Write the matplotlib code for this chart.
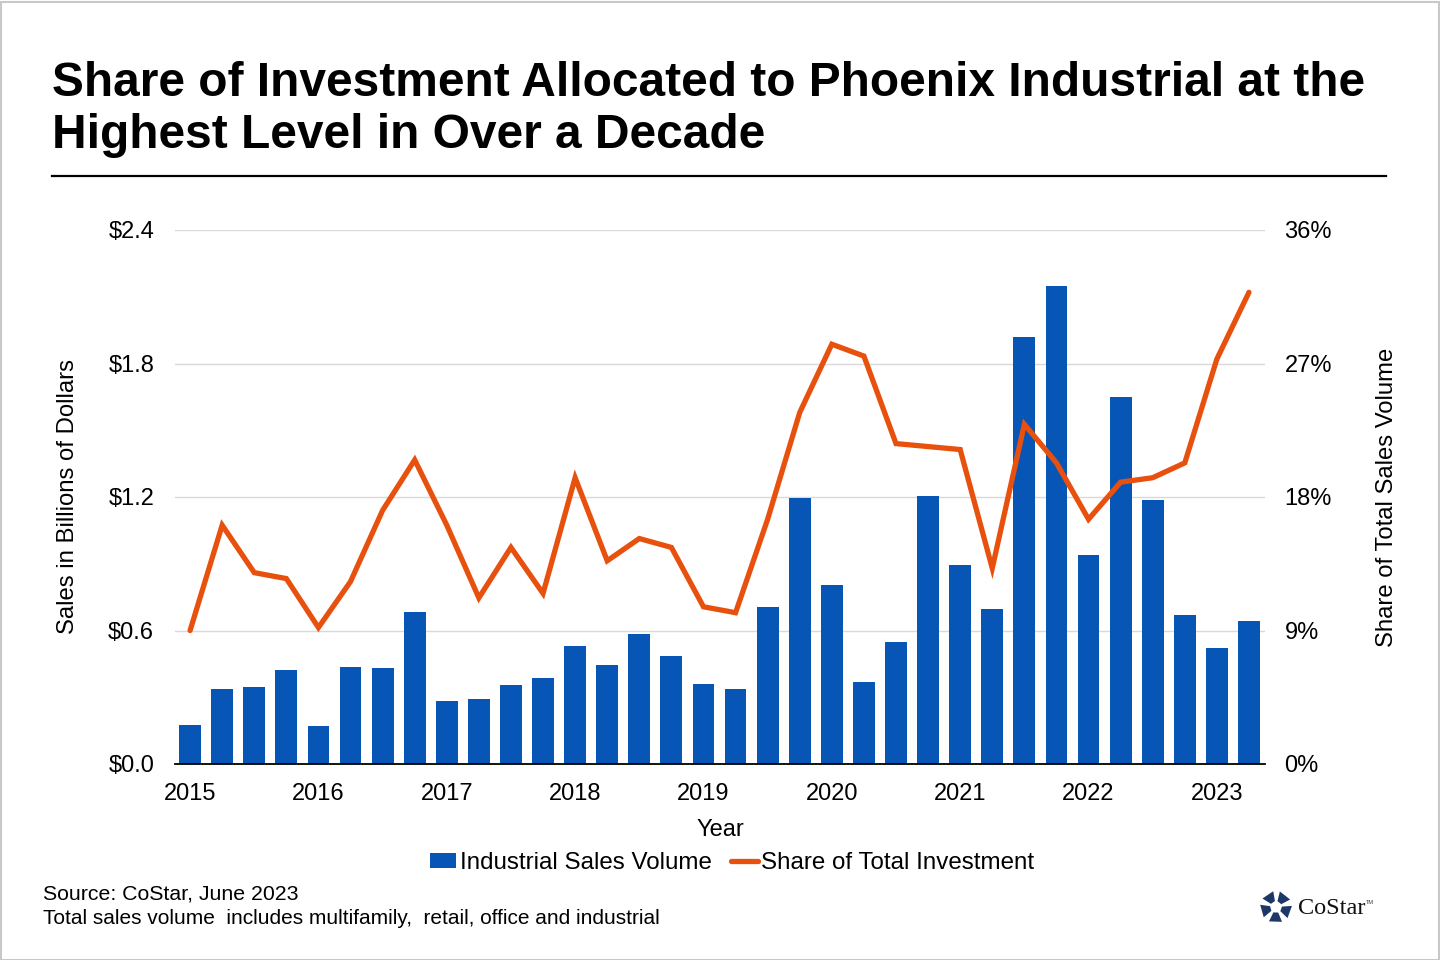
import numpy as np
import matplotlib.pyplot as plt
from matplotlib.patches import Polygon, Rectangle
from matplotlib.lines import Line2D
from matplotlib.patches import Patch

plt.rcParams["font.family"] = ["Liberation Sans", "DejaVu Sans"]

# ------------------------------------------------------------
# data: quarterly, 2015 Q1 .. 2023 Q2
# ------------------------------------------------------------
quarters = [f"{y}Q{q}" for y in range(2015, 2024) for q in range(1, 5)][:34]

sales_volume = [
    0.175, 0.337, 0.346, 0.422, 0.171, 0.436, 0.431, 0.683,
    0.283, 0.292, 0.355, 0.386, 0.530, 0.445, 0.584, 0.485,
    0.360, 0.337, 0.706, 1.196, 0.804, 0.369, 0.548, 1.204,
    0.894, 0.697, 1.919, 2.148, 0.939, 1.649, 1.187, 0.670,
    0.521, 0.643,
]

share_pct = [
    9.0, 16.1, 12.9, 12.5, 9.2, 12.3, 17.1, 20.5,
    16.1, 11.2, 14.6, 11.5, 19.3, 13.7, 15.2, 14.6,
    10.6, 10.2, 16.5, 23.7, 28.3, 27.5, 21.6, 21.4,
    21.2, 13.2, 22.9, 20.3, 16.5, 19.0, 19.3, 20.3,
    27.3, 31.8,
]

year_labels = [str(y) for y in range(2015, 2024)]
left_ticks = [0.0, 0.6, 1.2, 1.8, 2.4]
right_ticks = [0, 9, 18, 27, 36]

BLUE = "#0755B5"
ORANGE = "#E8500E"

# ------------------------------------------------------------
# figure
# ------------------------------------------------------------
fig = plt.figure(figsize=(14.4, 9.6), dpi=100)
ax = fig.add_axes([175 / 1440, 1 - 764 / 960, 1090 / 1440, 534 / 960])
ax2 = ax.twinx()

x = np.arange(len(quarters))
ax.bar(x, sales_volume, width=0.68, color=BLUE, zorder=2)
ax2.plot(x, share_pct, color=ORANGE, linewidth=3.8, solid_joinstyle="miter",
         solid_capstyle="round", zorder=3)

ax.set_xlim(-0.47, 33.5)
ax.set_ylim(0, 2.4)
ax2.set_ylim(0, 36)

ax.set_yticks(left_ticks)
ax.set_yticklabels([f"${v:.1f}" for v in left_ticks])
ax2.set_yticks(right_ticks)
ax2.set_yticklabels([f"{v}%" for v in right_ticks])
ax.set_xticks(x[::4])
ax.set_xticklabels(year_labels)

ax.yaxis.grid(True, color="#d9d9d9", linewidth=1, zorder=0)
ax.set_axisbelow(True)

for a in (ax, ax2):
    for s in ("top", "left", "right", "bottom"):
        a.spines[s].set_visible(False)
ax.spines["bottom"].set_visible(True)
ax.spines["bottom"].set_color("black")
ax.spines["bottom"].set_linewidth(1.3)
ax.spines["bottom"].set_zorder(4)

ax.tick_params(axis="x", length=0, pad=14, labelsize=17)
ax.tick_params(axis="y", length=0, pad=15, labelsize=17)
ax2.tick_params(axis="y", length=0, pad=14, labelsize=17)

ax.set_xlabel("Year", fontsize=17, labelpad=10)
ax.set_ylabel("Sales in Billions of Dollars", fontsize=17.2, labelpad=21)
ax2.set_ylabel("Share of Total Sales Volume", fontsize=17.2, labelpad=32)

# legend
handles = [
    Patch(facecolor=BLUE, edgecolor="none"),
    Line2D([0], [0], color=ORANGE, linewidth=3.8, solid_capstyle="round"),
]
fig.legend(handles, ["Industrial Sales Volume", "Share of Total Investment"],
           loc="center", bbox_to_anchor=(732 / 1440, 1 - 863 / 960), ncol=2,
           frameon=False, fontsize=17.4, handlelength=1.1, handletextpad=0.15,
           columnspacing=0.8, handleheight=0.6)

# title and rule
fig.text(52 / 1440, 1 - 83 / 960,
         "Share of Investment Allocated to Phoenix Industrial at the",
         fontsize=34.5, fontweight="bold", va="center", ha="left")
fig.text(52 / 1440, 1 - 136 / 960, "Highest Level in Over a Decade",
         fontsize=34.5, fontweight="bold", va="center", ha="left")
fig.add_artist(Line2D([52 / 1440, 1386 / 1440], [1 - 176 / 960] * 2,
                      color="black", linewidth=1.6))

# footer
fig.text(43 / 1440, 1 - 894 / 960, "Source: CoStar, June 2023",
         fontsize=15.3, va="center", ha="left")
fig.text(43 / 1440, 1 - 919 / 960,
         "Total sales volume  includes multifamily,  retail, office and industrial",
         fontsize=15, va="center", ha="left")

# CoStar logo mark
cx, cy = 1276, 907
for k in range(5):
    a0 = np.deg2rad(100 + 72 * k)
    a1 = a0 + np.deg2rad(48)
    r_in, r_out = 6, 16
    pts = [
        (cx + r_in * np.cos(a0), cy - r_in * np.sin(a0)),
        (cx + r_out * np.cos(a0), cy - r_out * np.sin(a0)),
        (cx + r_out * np.cos(a1), cy - r_out * np.sin(a1)),
        (cx + r_in * np.cos(a1), cy - r_in * np.sin(a1)),
    ]
    pts = [(px / 1440, 1 - py / 960) for px, py in pts]
    fig.add_artist(Polygon(pts, closed=True, transform=fig.transFigure,
                           facecolor="#1E3769", edgecolor="none"))
fig.text(1298 / 1440, 1 - 908 / 960, "CoStar", family=["Liberation Serif"],
         fontsize=17.5, color="#111111", va="center", ha="left")
fig.text(1366 / 1440, 1 - 903 / 960, "TM", fontsize=4, color="#333333",
         va="center", ha="left")

# image border
fig.add_artist(Rectangle((0.5 / 1440, 0.5 / 960), 1438 / 1440, 958 / 960,
                         transform=fig.transFigure, fill=False,
                         edgecolor="#c8c8c8", linewidth=1.5))

fig.savefig("out.png", dpi=100, facecolor="white")
